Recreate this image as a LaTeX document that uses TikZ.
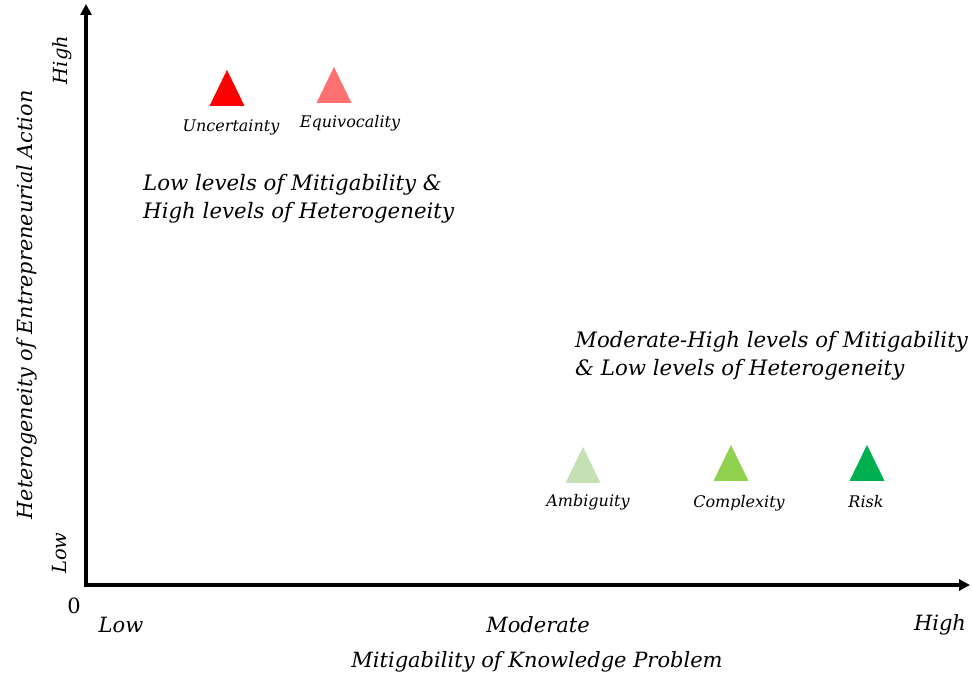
\documentclass[tikz,border=0pt]{standalone}
\usepackage{fontspec}
\setmainfont{DejaVu Serif}
\usetikzlibrary{shapes.geometric,arrows.meta}
\definecolor{cUnc}{HTML}{FF0000}
\definecolor{cEqu}{HTML}{FF7171}
\definecolor{cAmb}{HTML}{C5E0B4}
\definecolor{cCom}{HTML}{92D050}
\definecolor{cRis}{HTML}{00B050}
\tikzset{
  axis/.style={line width=3.8pt,-{Triangle[length=11pt,width=11pt]}},
  tri/.style={isosceles triangle,isosceles triangle stretches,shape border rotate=90,minimum width=35pt,minimum height=36pt,inner sep=0pt,draw=none},
  lab/.style={font=\fontsize{16}{18}\selectfont\itshape,inner sep=0pt},
  big/.style={font=\fontsize{21.3}{28}\selectfont\itshape,inner sep=0pt,align=left},
  tick/.style={font=\fontsize{21}{24}\selectfont\itshape,inner sep=0pt},
  vtick/.style={font=\fontsize{19.5}{22}\selectfont\itshape,inner sep=0pt,rotate=90},
}
\begin{document}
\begin{tikzpicture}[x=1pt,y=-1pt]
\useasboundingbox (0,0) rectangle (972,677);
\coordinate (O) at (86,585);
\coordinate (ytop) at (86,4);
\coordinate (xend) at (970,585);
\draw[axis] (86,587) -- (ytop);
\draw[axis] (84,585) -- (xend);
\node[font=\fontsize{21}{24}\selectfont,inner sep=0pt] (zero) at (74,606) {0};
\node[vtick] (ylow) at (60,553) {Low};
\node[vtick] (yhigh) at (62,60) {High};
\node[font=\fontsize{20.8}{24}\selectfont\itshape,inner sep=0pt,rotate=90] (ylab) at (27,305) {Heterogeneity of Entrepreneurial Action};
\node[tick] (xlow) at (121,625) {Low};
\node[tick] (xmod) at (538,625) {Moderate};
\node[tick] (xhigh) at (940,625) {High};
\node[tick] (xlab) at (537,662) {Mitigability of Knowledge Problem};
\node[tri,fill=cUnc] (unc) at (227,95) {};
\node[tri,fill=cEqu] (equ) at (334,92) {};
\node[tri,fill=cAmb] (amb) at (583,472) {};
\node[tri,fill=cCom] (com) at (731,470) {};
\node[tri,fill=cRis] (ris) at (867,470) {};
\node[lab] (uncl) at (231,127) {Uncertainty};
\node[lab] (equl) at (350,123) {Equivocality};
\node[lab] (ambl) at (588,502) {Ambiguity};
\node[lab] (coml) at (739,503) {Complexity};
\node[lab] (risl) at (866,502) {Risk};
\node[big,anchor=north west] (t1) at (143,174) {Low levels of Mitigability \&\\High levels of Heterogeneity};
\node[big,anchor=north west] (t2) at (575,331) {Moderate-High levels of Mitigability\\\& Low levels of Heterogeneity};
\end{tikzpicture}
\end{document}
